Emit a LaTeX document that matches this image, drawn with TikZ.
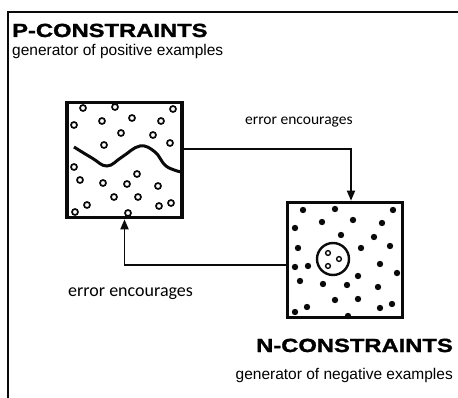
\documentclass[tikz,border=0pt]{standalone}
\usepackage{fontspec}
\setmainfont{Liberation Sans}
\newfontfamily\heavyfont[FakeBold=1.5,FakeStretch=1.25]{Liberation Sans Bold}
\newfontfamily\notefont{Carlito}
\usetikzlibrary{arrows.meta, positioning, calc}
\definecolor{inkblack}{RGB}{10,10,10}
\tikzset{
  genbox/.style={rectangle, draw=inkblack, line width=3.6pt, minimum width=115pt,
    minimum height=115pt, inner sep=0pt},
  errarrow/.style={-{Triangle[length=10pt,width=8pt]}, line width=1.8pt, color=inkblack},
  titletext/.style={font=\heavyfont\fontsize{19}{19}\selectfont, inner sep=0pt},
  subtext/.style={font=\fontsize{15.5}{15.5}\selectfont, inner sep=0pt},
  errlabel/.style={font=\notefont\fontsize{15.5}{15.5}\selectfont, inner sep=0pt},
  posdot/.style={draw=inkblack, line width=1.7pt, fill=white},
  negdot/.style={fill=inkblack},
}

\begin{document}
\begin{tikzpicture}[x=1pt, y=-1pt]
  \useasboundingbox (0,0) rectangle (458,398);
  \draw[line width=1.8pt, inkblack] (8,398) -- (8,12) -- (458,12);

  \node[titletext, anchor=base west] (ptitle) at (12,37) {P-CONSTRAINTS};
  \node[subtext, anchor=base west] (psub) at (12,56) {generator of positive examples};
  \node[titletext, anchor=base east] (ntitle) at (453,352) {N-CONSTRAINTS};
  \node[subtext, anchor=base east] (nsub) at (453,379) {generator of negative examples};

  \node[genbox] (pgen) at (124.5,160) {};
  \node[genbox] (ngen) at (345,260) {};

  \draw[errarrow] ([yshift=11pt]pgen.east) -| ([xshift=6pt]ngen.north);
  \draw[errarrow] ([yshift=-5pt]ngen.west) -| (pgen.south);
  \node[errlabel, anchor=base west] (toplabel) at (245,125) {error encourages};
  \node[errlabel, anchor=base west, font=\notefont\fontsize{18}{18}\selectfont]
    (botlabel) at (68,297) {error encourages};

  % positive examples and the boundary
  \draw[line width=3pt, inkblack] plot[smooth, tension=0.7] coordinates
    {(74,147) (92,158) (107,166) (122,157) (140,146) (155,152) (166,166) (181,172)};
  \foreach \x/\y in {83/108, 115/107, 173/109, 74/125, 102/121, 132/118, 161/121,
      121/133, 153/135, 104/145, 170/143, 74/167, 137/174, 80/180, 103/183,
      127/184, 158/186, 114/197, 138/197, 87/205, 75/212, 128/213, 159/206, 171/203}
    \draw[posdot] (\x,\y) circle (3pt);

  % negative examples
  \foreach \x/\y in {303/210, 335/209, 393/210, 322/222, 353/220, 382/223, 295/228,
      341/235, 374/237, 298/248, 361/248, 390/246, 295/267, 308/266, 380/264,
      397/273, 300/281, 323/284, 358/276, 347/285, 378/287, 335/300, 358/299,
      380/308, 392/304, 307/307, 295/312, 348/316}
    \fill[negdot] (\x,\y) circle (3.2pt);
  \draw[line width=2.4pt, inkblack] (333,259) circle (16pt);
  \foreach \x/\y in {328/253, 339/259, 328/266}
    \draw[posdot, line width=1.4pt] (\x,\y) circle (2.4pt);
\end{tikzpicture}
\end{document}
